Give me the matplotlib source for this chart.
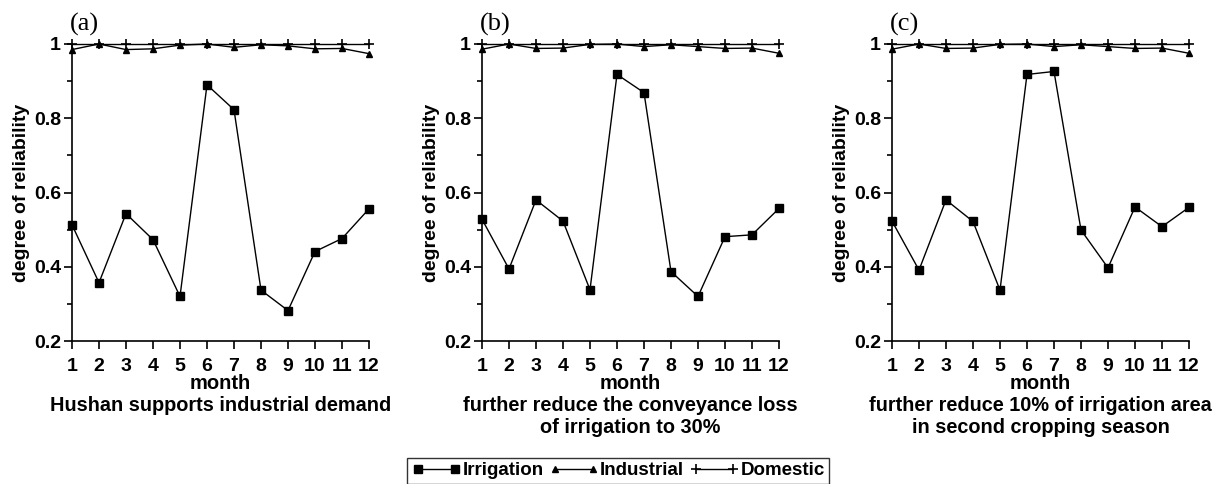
import matplotlib.pyplot as plt
from matplotlib.ticker import MultipleLocator

plt.rcParams['font.family'] = ['Liberation Sans', 'DejaVu Sans']
plt.rcParams['font.weight'] = 'bold'

months = list(range(1, 13))

# degree of reliability
irrigation_a = [0.513, 0.357, 0.543, 0.473, 0.320, 0.890, 0.823, 0.337, 0.282, 0.441, 0.476, 0.556]
irrigation_b = [0.528, 0.394, 0.580, 0.523, 0.338, 0.918, 0.869, 0.387, 0.320, 0.481, 0.486, 0.557]
irrigation_c = [0.523, 0.391, 0.580, 0.522, 0.337, 0.918, 0.926, 0.499, 0.397, 0.561, 0.508, 0.560]

industrial_a = [0.985, 1.0, 0.985, 0.987, 0.997, 1.0, 0.991, 0.998, 0.995, 0.987, 0.988, 0.974]
industrial_b = [0.986, 1.0, 0.988, 0.989, 0.999, 1.0, 0.993, 0.998, 0.993, 0.988, 0.989, 0.975]
industrial_c = [0.986, 1.0, 0.988, 0.989, 0.999, 1.0, 0.993, 0.998, 0.993, 0.988, 0.989, 0.975]

domestic = [1.0] * 12

panel_labels = ['(a)', '(b)', '(c)']
subtitles = [['Hushan supports industrial demand'],
             ['further reduce the conveyance loss', 'of irrigation to 30%'],
             ['further reduce 10% of irrigation area', 'in second cropping season']]
irrigation = [irrigation_a, irrigation_b, irrigation_c]
industrial = [industrial_a, industrial_b, industrial_c]

W, H = 1223, 484
fig = plt.figure(figsize=(W / 100, H / 100), dpi=100)

lefts = [72, 482, 892]
ax_w = 297
handles = None
for i in range(3):
    ax = fig.add_axes([lefts[i] / W, 1 - 341 / H, ax_w / W, (341 - 44) / H])

    l1, = ax.plot(months, irrigation[i], color='black', lw=1, marker='s', ms=6, clip_on=False)
    l2, = ax.plot(months, industrial[i], color='black', lw=1, marker='^', ms=5, clip_on=False)
    l3, = ax.plot(months, domestic, color='black', lw=1, marker='+', ms=7, mew=1.2, clip_on=False)
    handles = [l1, l2, l3]

    ax.set_xlim(1, 12)
    ax.set_ylim(0.2, 1.0)
    ax.set_xticks(months)
    ax.set_yticks([0.2, 0.4, 0.6, 0.8, 1.0])
    ax.set_yticklabels(['0.2', '0.4', '0.6', '0.8', '1'])
    ax.yaxis.set_minor_locator(MultipleLocator(0.1))
    ax.spines['top'].set_visible(False)
    ax.spines['right'].set_visible(False)
    ax.spines['left'].set_linewidth(1.2)
    ax.spines['bottom'].set_linewidth(1.2)
    ax.tick_params(which='major', direction='out', length=5.5, width=1.2, labelsize=14)
    ax.tick_params(axis='x', which='major', pad=7)
    ax.tick_params(axis='y', which='major', pad=2.5)
    ax.tick_params(which='minor', direction='out', length=3.5, width=1.2)
    for lab in ax.get_xticklabels() + ax.get_yticklabels():
        lab.set_fontweight('bold')

    ax.set_ylabel('degree of reliability', fontsize=14, fontweight='bold', labelpad=3)

    cx = (lefts[i] + ax_w / 2) / W
    fig.text(cx, 1 - 389 / H, 'month', fontsize=14.5, fontweight='bold',
             ha='center', va='baseline')
    # subtitle below each panel, one line at a time
    for k, line in enumerate(subtitles[i]):
        fig.text(cx, 1 - (411 + 22 * k) / H, line, fontsize=14.3, fontweight='bold',
                 ha='center', va='baseline')
    fig.text((lefts[i] - 2) / W, 1 - 31 / H, panel_labels[i], family='Liberation Serif',
             fontweight='normal', fontsize=19, ha='left', va='baseline')

fig.legend(handles, ['Irrigation', 'Industrial', 'Domestic'], loc='lower center',
           bbox_to_anchor=(0.5057, 0.0), ncol=3, numpoints=2, frameon=True, fancybox=False,
           edgecolor='black', handlelength=2.6, handletextpad=0.1,
           columnspacing=0.3, borderpad=0.25, borderaxespad=0.0,
           prop={'weight': 'bold', 'size': 13.5})

fig.savefig('out.png', dpi=100)
